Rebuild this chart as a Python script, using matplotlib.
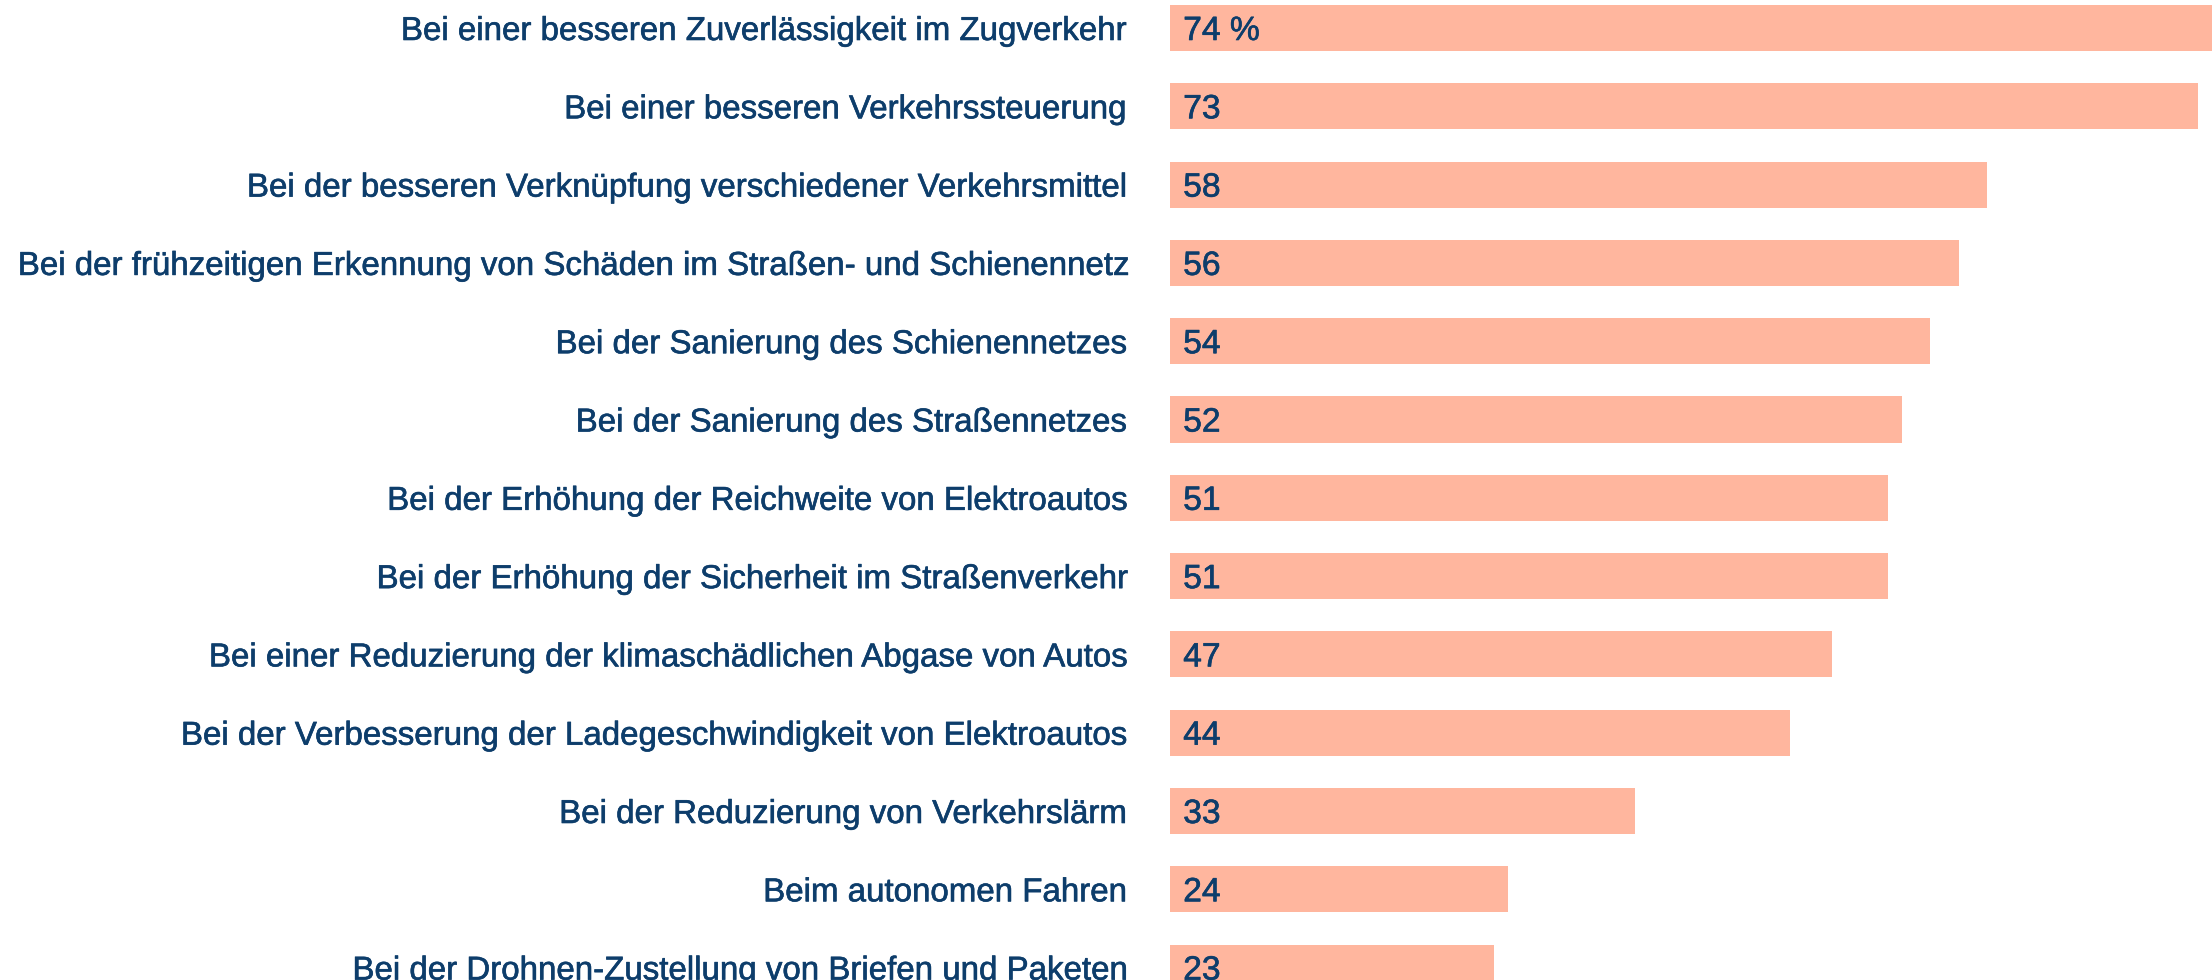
import matplotlib
matplotlib.use('Agg')
import matplotlib.pyplot as plt
import matplotlib.patheffects as pe

# survey answers, top to bottom
labels = [
    'Bei einer besseren Zuverlässigkeit im Zugverkehr',
    'Bei einer besseren Verkehrssteuerung',
    'Bei der besseren Verknüpfung verschiedener Verkehrsmittel',
    'Bei der frühzeitigen Erkennung von Schäden im Straßen- und Schienennetz',
    'Bei der Sanierung des Schienennetzes',
    'Bei der Sanierung des Straßennetzes',
    'Bei der Erhöhung der Reichweite von Elektroautos',
    'Bei der Erhöhung der Sicherheit im Straßenverkehr',
    'Bei einer Reduzierung der klimaschädlichen Abgase von Autos',
    'Bei der Verbesserung der Ladegeschwindigkeit von Elektroautos',
    'Bei der Reduzierung von Verkehrslärm',
    'Beim autonomen Fahren',
    'Bei der Drohnen-Zustellung von Briefen und Paketen',
]
values = [74, 73, 58, 56, 54, 52, 51, 51, 47, 44, 33, 24, 23]

BAR_COLOR = '#ffb69e'
TEXT_COLOR = '#0d3d6b'
FONT = ['Liberation Sans', 'DejaVu Sans']
FS = 23.8
# a thin stroke makes the regular face look a bit heavier, like the original
bold = [pe.withStroke(linewidth=0.45, foreground=TEXT_COLOR)]

W, H = 2212, 980
fig = plt.figure(figsize=(W / 100, H / 100), dpi=100)
ax = fig.add_axes([1170 / W, 0, 1 - 1170 / W, 1])

pos = list(range(len(values)))
ax.barh(pos, values, height=0.59, color=BAR_COLOR, edgecolor='none')

spacing = 78.3
ax.set_ylim((H - 28) / spacing, -28 / spacing)
ax.set_xlim(0, 74)

for i, v in enumerate(values):
    txt = f'{v} %' if i == 0 else f'{v}'
    ax.annotate(txt, (0, i), xytext=(9.5, 0), textcoords='offset points',
                va='center_baseline', ha='left', fontsize=FS + 0.4, color=TEXT_COLOR,
                family=FONT, path_effects=bold)

ax.set_yticks(pos)
ax.set_yticklabels(labels, fontsize=FS, color=TEXT_COLOR, family=FONT)
for t in ax.get_yticklabels():
    t.set_path_effects(bold)
ax.tick_params(axis='y', length=0, pad=32)
ax.set_xticks([])
for s in ax.spines.values():
    s.set_visible(False)

fig.savefig('out.png', dpi=100)
